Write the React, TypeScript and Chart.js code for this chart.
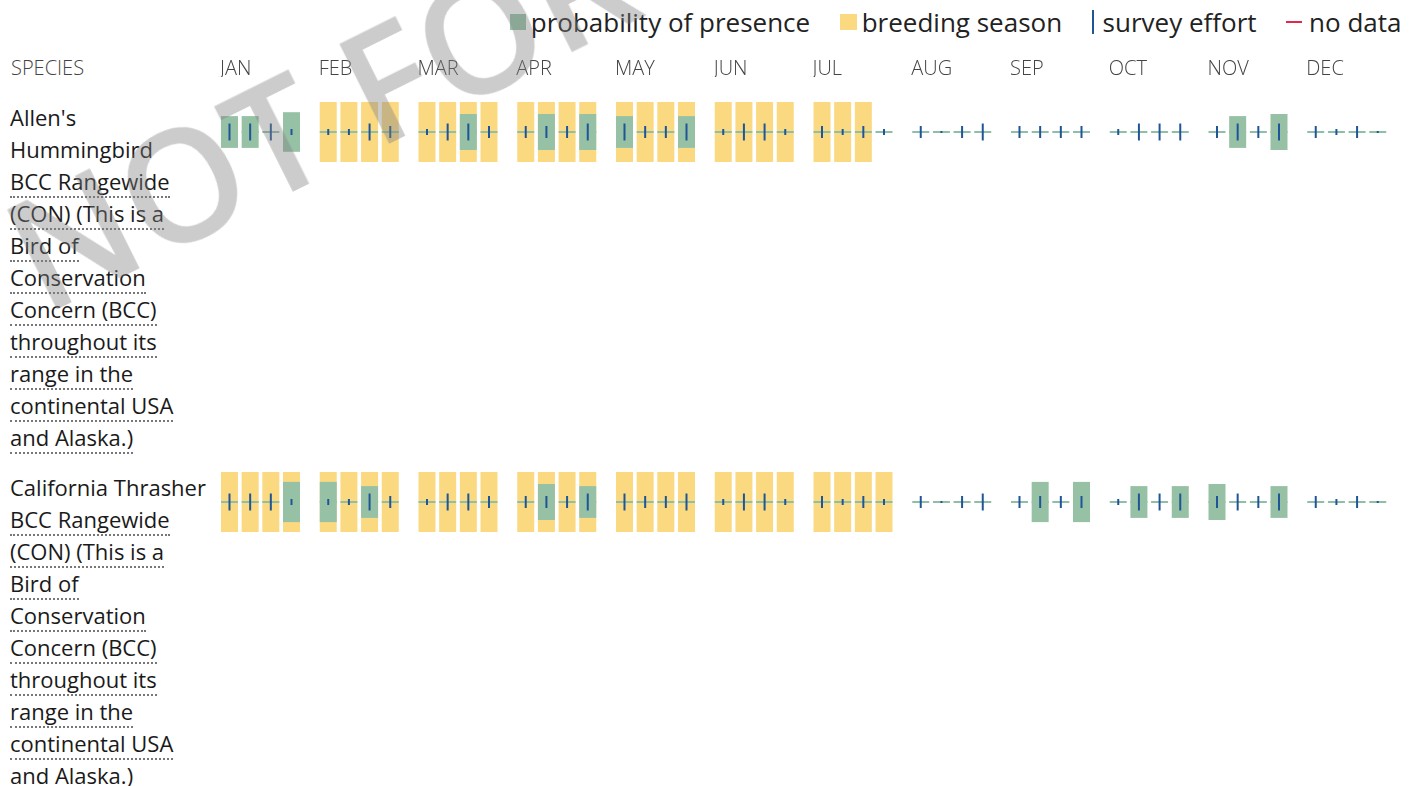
import React, { useEffect, useRef } from "react";
import { Chart, registerables } from "chart.js";

Chart.register(...registerables);

// ---------- data ----------
const MONTHS = ["JAN", "FEB", "MAR", "APR", "MAY", "JUN", "JUL", "AUG", "SEP", "OCT", "NOV", "DEC"];

const LEGEND_LABELS = ["probability of presence", "breeding season", "survey effort", "no data"];

// survey effort per week (length of the blue tick as a share of the row height)
const SURVEY_EFFORT = [
  0.283, 0.283, 0.283, 0.1, // JAN
  0.1, 0.1, 0.283, 0.2, // FEB
  0.1, 0.283, 0.283, 0.2, // MAR
  0.2, 0.2, 0.2, 0.283, // APR
  0.283, 0.2, 0.2, 0.283, // MAY
  0.1, 0.283, 0.283, 0.1, // JUN
  0.2, 0.1, 0.2, 0.1, // JUL
  0.2, 0.033, 0.2, 0.283, // AUG
  0.2, 0.2, 0.2, 0.2, // SEP
  0.1, 0.283, 0.283, 0.283, // OCT
  0.2, 0.283, 0.2, 0.283, // NOV
  0.2, 0.1, 0.2, 0.033, // DEC
];

// probability of presence per week (share of the row height)
const ALLENS_PROBABILITY = [
  0.53, 0.53, 0, 0.66,
  0, 0, 0, 0,
  0, 0, 0.6, 0,
  0, 0.6, 0, 0.6,
  0.53, 0, 0, 0.53,
  0, 0, 0, 0,
  0, 0, 0, 0,
  0, 0, 0, 0,
  0, 0, 0, 0,
  0, 0, 0, 0,
  0, 0.53, 0, 0.6,
  0, 0, 0, 0,
];
const ALLENS_BREEDING = [
  0, 0, 0, 0,
  1, 1, 1, 1,
  1, 1, 1, 1,
  1, 1, 1, 1,
  1, 1, 1, 1,
  1, 1, 1, 1,
  1, 1, 1, 0,
  0, 0, 0, 0,
  0, 0, 0, 0,
  0, 0, 0, 0,
  0, 0, 0, 0,
  0, 0, 0, 0,
];

const THRASHER_PROBABILITY = [
  0, 0, 0, 0.67,
  0.67, 0, 0.53, 0,
  0, 0, 0, 0,
  0, 0.6, 0, 0.53,
  0, 0, 0, 0,
  0, 0, 0, 0,
  0, 0, 0, 0,
  0, 0, 0, 0,
  0, 0.67, 0, 0.67,
  0, 0.53, 0, 0.53,
  0.6, 0, 0, 0.53,
  0, 0, 0, 0,
];
const THRASHER_BREEDING = [
  1, 1, 1, 1,
  1, 1, 1, 1,
  1, 1, 1, 1,
  1, 1, 1, 1,
  1, 1, 1, 1,
  1, 1, 1, 1,
  1, 1, 1, 1,
  0, 0, 0, 0,
  0, 0, 0, 0,
  0, 0, 0, 0,
  0, 0, 0, 0,
  0, 0, 0, 0,
];

const ALLENS_NAME = ["Allen's", "Hummingbird"];
const THRASHER_NAME = ["California Thrasher"];
const BCC_NOTE = [
  "BCC Rangewide",
  "(CON) (This is a",
  "Bird of",
  "Conservation",
  "Concern (BCC)",
  "throughout its",
  "range in the",
  "continental USA",
  "and Alaska.)",
];

// ---------- style ----------
const GREEN = "#96c1a5";
const GREEN_LINE = "#8fbfa6";
const YELLOW = "#fad981";
const BLUE = "#1f5596";
const RED = "#e3284b";
const FONT = "'Open Sans', 'DejaVu Sans', sans-serif";

const WEEK_START = 0.1873; // centre of first week inside a month (month units)
const WEEK_STEP = 0.2093; // distance between week slots (month units)
const BASELINE = 2 / 60;

const weekX = (i: number) => Math.floor(i / 4) + WEEK_START + (i % 4) * WEEK_STEP;

function BarRow({ probability, breeding }: { probability: number[]; breeding: number[] }) {
  const ref = useRef<HTMLCanvasElement | null>(null);
  useEffect(() => {
    if (!ref.current) return;
    const effort = SURVEY_EFFORT.map((e, i) => ({ x: weekX(i), y: [-e / 2, e / 2] }));
    const presence = probability
      .map((p, i) => ({ x: weekX(i), y: [-p / 2, p / 2], p }))
      .filter((d) => d.p > 0);
    const baseline = SURVEY_EFFORT.map((_, i) => ({ x: weekX(i), y: [-BASELINE / 2, BASELINE / 2] }));
    const season = breeding
      .map((b, i) => ({ x: weekX(i), y: [-0.5, 0.5], b }))
      .filter((d) => d.b);
    const chart = new Chart(ref.current, {
      type: "bar",
      data: {
        datasets: [
          { label: "survey effort", data: effort as any, backgroundColor: BLUE, barThickness: 2, grouped: false },
          { label: "probability of presence", data: presence as any, backgroundColor: GREEN, barThickness: 17, grouped: false },
          { label: "presence baseline", data: baseline as any, backgroundColor: GREEN_LINE, barThickness: 17, grouped: false },
          { label: "breeding season", data: season as any, backgroundColor: YELLOW, barThickness: 17, grouped: false },
        ],
      },
      options: {
        animation: false,
        responsive: false,
        devicePixelRatio: 1,
        layout: { padding: 0 },
        elements: { bar: { borderWidth: 0, inflateAmount: 0 } as any },
        plugins: { legend: { display: false }, tooltip: { enabled: false } },
        scales: {
          x: { type: "linear", min: 0, max: 12, display: false, offset: false },
          y: { type: "linear", min: -0.5, max: 0.5, display: false },
        },
      },
    });
    return () => chart.destroy();
  }, [probability, breeding]);
  return <canvas ref={ref} width={1185} height={60} style={{ display: "block", width: 1185, height: 60 }} />;
}

function MonthAxis() {
  const ref = useRef<HTMLCanvasElement | null>(null);
  useEffect(() => {
    if (!ref.current) return;
    const chart = new Chart(ref.current, {
      type: "scatter",
      data: { datasets: [] },
      options: {
        animation: false,
        responsive: false,
        devicePixelRatio: 1,
        layout: { padding: 0 },
        plugins: { legend: { display: false }, tooltip: { enabled: false } },
        scales: {
          x: {
            type: "linear",
            position: "bottom",
            min: 0,
            max: 12,
            offset: false,
            grid: { display: false, drawTicks: false },
            border: { display: false },
            afterBuildTicks: (axis: any) => {
              axis.ticks = MONTHS.map((_, i) => ({ value: i }));
            },
            ticks: {
              autoSkip: false,
              maxRotation: 0,
              minRotation: 0,
              align: "start",
              labelOffset: 9,
              padding: 0,
              color: "#444",
              font: { family: FONT, size: 20, weight: "300" as any },
              callback: (v: any) => MONTHS[v as number] ?? "",
            },
          },
          y: { display: false, min: 0, max: 1 },
        },
      },
    });
    return () => chart.destroy();
  }, []);
  return <canvas ref={ref} width={1185} height={40} style={{ display: "block", width: 1185, height: 40 }} />;
}

function Legend() {
  const item = (swatch: React.ReactNode, label: string, gap: number, first: boolean) => (
    <div key={label} style={{ display: "flex", alignItems: "center", marginLeft: first ? 0 : 29.5 }}>
      {swatch}
      <span style={{ marginLeft: gap }}>{label}</span>
    </div>
  );
  return (
    <div
      style={{
        position: "absolute",
        top: 6,
        right: 15.5,
        height: 32,
        display: "flex",
        alignItems: "center",
        fontSize: 26,
        lineHeight: "32px",
        color: "#222",
        whiteSpace: "nowrap",
      }}
    >
      {item(<span style={{ display: "inline-block", width: 16, height: 16, background: GREEN }} />, LEGEND_LABELS[0], 5, true)}
      {item(<span style={{ display: "inline-block", width: 17, height: 16, background: YELLOW }} />, LEGEND_LABELS[1], 5, false)}
      {item(<span style={{ display: "inline-block", width: 2, height: 24, background: BLUE }} />, LEGEND_LABELS[2], 9, false)}
      {item(<span style={{ display: "inline-block", width: 16, height: 2, background: RED }} />, LEGEND_LABELS[3], 7, false)}
    </div>
  );
}

const SPECIES = [
  { name: ALLENS_NAME, note: BCC_NOTE, probability: ALLENS_PROBABILITY, breeding: ALLENS_BREEDING },
  { name: THRASHER_NAME, note: BCC_NOTE, probability: THRASHER_PROBABILITY, breeding: THRASHER_BREEDING },
];

export default function App() {
  return (
    <div
      style={{
        position: "absolute",
        left: 0,
        top: 0,
        width: 1417,
        height: 786,
        overflow: "hidden",
        background: "#fff",
        fontFamily: FONT,
      }}
    >
      <Legend />
      <div style={{ position: "absolute", left: 11, top: 55, fontSize: 20, fontWeight: 300, lineHeight: "26px", color: "#444" }}>
        SPECIES
      </div>
      <div style={{ position: "absolute", left: 211, top: 37 }}>
        <MonthAxis />
      </div>
      <div style={{ position: "absolute", left: 10, top: 100.5 }}>
        {SPECIES.map((s, k) => (
          <div key={k} style={{ display: "flex", alignItems: "flex-start", paddingBottom: 18 }}>
            <div style={{ width: 201, fontSize: 22, lineHeight: "32px", color: "#1a1a1a", whiteSpace: "nowrap" }}>
              {s.name.map((l) => (
                <div key={l}>{l}</div>
              ))}
              {s.note.map((l) => (
                <div key={l}>
                  <span style={{ borderBottom: "2px dotted #777" }}>{l}</span>
                </div>
              ))}
            </div>
            <div style={{ marginTop: 1 }}>
              <BarRow probability={s.probability} breeding={s.breeding} />
            </div>
          </div>
        ))}
      </div>
      <div
        style={{
          position: "absolute",
          left: 35,
          top: 180,
          fontSize: 155,
          lineHeight: "155px",
          fontWeight: 600,
          color: "rgba(128,128,128,0.4)",
          whiteSpace: "nowrap",
          transformOrigin: "0px 118px",
          transform: "rotate(-26.5deg)",
          pointerEvents: "none",
        }}
      >
        NOT FOR CONSULTATION
      </div>
    </div>
  );
}
